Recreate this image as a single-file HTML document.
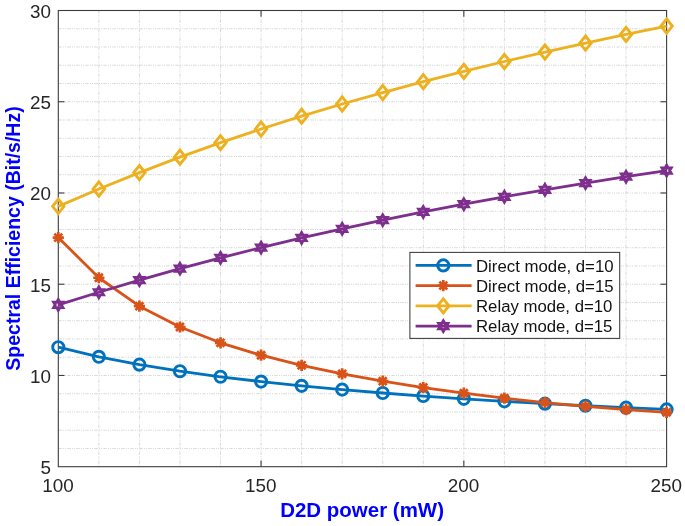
<!DOCTYPE html>
<html lang="en"><head><meta charset="utf-8"><title>Spectral Efficiency vs D2D power</title>
<style>html,body{margin:0;padding:0;background:#fff}svg{display:block}</style></head>
<body>
<svg width="685" height="526" viewBox="0 0 685 526">
<rect width="685" height="526" fill="#fff"/>
<g stroke="#d9d9d9" stroke-width="1" stroke-dasharray="3.4 1.3 1 1 1 1.3" fill="none">
<line x1="98.85" y1="10.5" x2="98.85" y2="466.7"/>
<line x1="139.41" y1="10.5" x2="139.41" y2="466.7"/>
<line x1="179.96" y1="10.5" x2="179.96" y2="466.7"/>
<line x1="220.51" y1="10.5" x2="220.51" y2="466.7"/>
<line x1="261.07" y1="10.5" x2="261.07" y2="466.7"/>
<line x1="301.62" y1="10.5" x2="301.62" y2="466.7"/>
<line x1="342.17" y1="10.5" x2="342.17" y2="466.7"/>
<line x1="382.73" y1="10.5" x2="382.73" y2="466.7"/>
<line x1="423.28" y1="10.5" x2="423.28" y2="466.7"/>
<line x1="463.83" y1="10.5" x2="463.83" y2="466.7"/>
<line x1="504.39" y1="10.5" x2="504.39" y2="466.7"/>
<line x1="544.94" y1="10.5" x2="544.94" y2="466.7"/>
<line x1="585.49" y1="10.5" x2="585.49" y2="466.7"/>
<line x1="626.05" y1="10.5" x2="626.05" y2="466.7"/>
<line x1="58.3" y1="448.45" x2="666.6" y2="448.45"/>
<line x1="58.3" y1="430.20" x2="666.6" y2="430.20"/>
<line x1="58.3" y1="411.96" x2="666.6" y2="411.96"/>
<line x1="58.3" y1="393.71" x2="666.6" y2="393.71"/>
<line x1="58.3" y1="375.46" x2="666.6" y2="375.46"/>
<line x1="58.3" y1="357.21" x2="666.6" y2="357.21"/>
<line x1="58.3" y1="338.96" x2="666.6" y2="338.96"/>
<line x1="58.3" y1="320.72" x2="666.6" y2="320.72"/>
<line x1="58.3" y1="302.47" x2="666.6" y2="302.47"/>
<line x1="58.3" y1="284.22" x2="666.6" y2="284.22"/>
<line x1="58.3" y1="265.97" x2="666.6" y2="265.97"/>
<line x1="58.3" y1="247.72" x2="666.6" y2="247.72"/>
<line x1="58.3" y1="229.48" x2="666.6" y2="229.48"/>
<line x1="58.3" y1="211.23" x2="666.6" y2="211.23"/>
<line x1="58.3" y1="192.98" x2="666.6" y2="192.98"/>
<line x1="58.3" y1="174.73" x2="666.6" y2="174.73"/>
<line x1="58.3" y1="156.48" x2="666.6" y2="156.48"/>
<line x1="58.3" y1="138.24" x2="666.6" y2="138.24"/>
<line x1="58.3" y1="119.99" x2="666.6" y2="119.99"/>
<line x1="58.3" y1="101.74" x2="666.6" y2="101.74"/>
<line x1="58.3" y1="83.49" x2="666.6" y2="83.49"/>
<line x1="58.3" y1="65.24" x2="666.6" y2="65.24"/>
<line x1="58.3" y1="47.00" x2="666.6" y2="47.00"/>
<line x1="58.3" y1="28.75" x2="666.6" y2="28.75"/>
</g>
<g stroke="#3c3c3c" stroke-width="1.1" fill="none">
<rect x="58.3" y="10.5" width="608.30" height="456.20"/>
<line x1="261.07" y1="466.7" x2="261.07" y2="460.5"/>
<line x1="261.07" y1="10.5" x2="261.07" y2="16.7"/>
<line x1="463.83" y1="466.7" x2="463.83" y2="460.5"/>
<line x1="463.83" y1="10.5" x2="463.83" y2="16.7"/>
<line x1="58.3" y1="375.46" x2="64.5" y2="375.46"/>
<line x1="666.6" y1="375.46" x2="660.4" y2="375.46"/>
<line x1="58.3" y1="284.22" x2="64.5" y2="284.22"/>
<line x1="666.6" y1="284.22" x2="660.4" y2="284.22"/>
<line x1="58.3" y1="192.98" x2="64.5" y2="192.98"/>
<line x1="666.6" y1="192.98" x2="660.4" y2="192.98"/>
<line x1="58.3" y1="101.74" x2="64.5" y2="101.74"/>
<line x1="666.6" y1="101.74" x2="660.4" y2="101.74"/>
</g>
<polyline points="58.30,347.18 98.85,356.82 139.41,364.66 179.96,371.20 220.51,376.77 261.07,381.61 301.62,385.85 342.17,389.63 382.73,393.02 423.28,396.07 463.83,398.84 504.39,401.36 544.94,403.66 585.49,405.76 626.05,407.66 666.60,409.40" fill="none" stroke="#0072bd" stroke-width="2.8" stroke-linejoin="round"/>
<circle cx="58.30" cy="347.18" r="5.6" fill="none" stroke="#0072bd" stroke-width="2.9"/>
<circle cx="98.85" cy="356.82" r="5.6" fill="none" stroke="#0072bd" stroke-width="2.9"/>
<circle cx="139.41" cy="364.66" r="5.6" fill="none" stroke="#0072bd" stroke-width="2.9"/>
<circle cx="179.96" cy="371.20" r="5.6" fill="none" stroke="#0072bd" stroke-width="2.9"/>
<circle cx="220.51" cy="376.77" r="5.6" fill="none" stroke="#0072bd" stroke-width="2.9"/>
<circle cx="261.07" cy="381.61" r="5.6" fill="none" stroke="#0072bd" stroke-width="2.9"/>
<circle cx="301.62" cy="385.85" r="5.6" fill="none" stroke="#0072bd" stroke-width="2.9"/>
<circle cx="342.17" cy="389.63" r="5.6" fill="none" stroke="#0072bd" stroke-width="2.9"/>
<circle cx="382.73" cy="393.02" r="5.6" fill="none" stroke="#0072bd" stroke-width="2.9"/>
<circle cx="423.28" cy="396.07" r="5.6" fill="none" stroke="#0072bd" stroke-width="2.9"/>
<circle cx="463.83" cy="398.84" r="5.6" fill="none" stroke="#0072bd" stroke-width="2.9"/>
<circle cx="504.39" cy="401.36" r="5.6" fill="none" stroke="#0072bd" stroke-width="2.9"/>
<circle cx="544.94" cy="403.66" r="5.6" fill="none" stroke="#0072bd" stroke-width="2.9"/>
<circle cx="585.49" cy="405.76" r="5.6" fill="none" stroke="#0072bd" stroke-width="2.9"/>
<circle cx="626.05" cy="407.66" r="5.6" fill="none" stroke="#0072bd" stroke-width="2.9"/>
<circle cx="666.60" cy="409.40" r="5.6" fill="none" stroke="#0072bd" stroke-width="2.9"/>
<polyline points="58.30,237.54 98.85,277.77 139.41,306.20 179.96,327.00 220.51,342.79 261.07,355.22 301.62,365.34 342.17,373.84 382.73,381.15 423.28,387.53 463.83,393.17 504.39,398.15 544.94,402.54 585.49,406.35 626.05,409.61 666.60,412.29" fill="none" stroke="#d95319" stroke-width="2.8" stroke-linejoin="round"/>
<path d="M52.70 237.54H63.90M58.30 231.94V243.14M54.34 233.58L62.26 241.50M54.34 241.50L62.26 233.58" fill="none" stroke="#d95319" stroke-width="2.7"/>
<path d="M93.25 277.77H104.45M98.85 272.17V283.37M94.89 273.81L102.81 281.73M94.89 281.73L102.81 273.81" fill="none" stroke="#d95319" stroke-width="2.7"/>
<path d="M133.81 306.20H145.01M139.41 300.60V311.80M135.45 302.24L143.37 310.16M135.45 310.16L143.37 302.24" fill="none" stroke="#d95319" stroke-width="2.7"/>
<path d="M174.36 327.00H185.56M179.96 321.40V332.60M176.00 323.04L183.92 330.96M176.00 330.96L183.92 323.04" fill="none" stroke="#d95319" stroke-width="2.7"/>
<path d="M214.91 342.79H226.11M220.51 337.19V348.39M216.55 338.83L224.47 346.75M216.55 346.75L224.47 338.83" fill="none" stroke="#d95319" stroke-width="2.7"/>
<path d="M255.47 355.22H266.67M261.07 349.62V360.82M257.11 351.26L265.03 359.18M257.11 359.18L265.03 351.26" fill="none" stroke="#d95319" stroke-width="2.7"/>
<path d="M296.02 365.34H307.22M301.62 359.74V370.94M297.66 361.38L305.58 369.30M297.66 369.30L305.58 361.38" fill="none" stroke="#d95319" stroke-width="2.7"/>
<path d="M336.57 373.84H347.77M342.17 368.24V379.44M338.21 369.88L346.13 377.80M338.21 377.80L346.13 369.88" fill="none" stroke="#d95319" stroke-width="2.7"/>
<path d="M377.13 381.15H388.33M382.73 375.55V386.75M378.77 377.19L386.69 385.11M378.77 385.11L386.69 377.19" fill="none" stroke="#d95319" stroke-width="2.7"/>
<path d="M417.68 387.53H428.88M423.28 381.93V393.13M419.32 383.57L427.24 391.49M419.32 391.49L427.24 383.57" fill="none" stroke="#d95319" stroke-width="2.7"/>
<path d="M458.23 393.17H469.43M463.83 387.57V398.77M459.87 389.21L467.79 397.13M459.87 397.13L467.79 389.21" fill="none" stroke="#d95319" stroke-width="2.7"/>
<path d="M498.79 398.15H509.99M504.39 392.55V403.75M500.43 394.19L508.35 402.11M500.43 402.11L508.35 394.19" fill="none" stroke="#d95319" stroke-width="2.7"/>
<path d="M539.34 402.54H550.54M544.94 396.94V408.14M540.98 398.58L548.90 406.50M540.98 406.50L548.90 398.58" fill="none" stroke="#d95319" stroke-width="2.7"/>
<path d="M579.89 406.35H591.09M585.49 400.75V411.95M581.53 402.39L589.45 410.31M581.53 410.31L589.45 402.39" fill="none" stroke="#d95319" stroke-width="2.7"/>
<path d="M620.45 409.61H631.65M626.05 404.01V415.21M622.09 405.65L630.01 413.57M622.09 413.57L630.01 405.65" fill="none" stroke="#d95319" stroke-width="2.7"/>
<path d="M661.00 412.29H672.20M666.60 406.69V417.89M662.64 408.33L670.56 416.25M662.64 416.25L670.56 408.33" fill="none" stroke="#d95319" stroke-width="2.7"/>
<polyline points="58.30,206.37 98.85,188.99 139.41,172.58 179.96,157.15 220.51,142.64 261.07,128.99 301.62,116.14 342.17,104.01 382.73,92.54 423.28,81.67 463.83,71.33 504.39,61.49 544.94,52.08 585.49,43.07 626.05,34.43 666.60,26.11" fill="none" stroke="#edb120" stroke-width="2.8" stroke-linejoin="round"/>
<polygon points="58.30,199.27 64.00,206.37 58.30,213.47 52.60,206.37" fill="none" stroke="#edb120" stroke-width="2.9" stroke-linejoin="miter"/>
<polygon points="98.85,181.89 104.55,188.99 98.85,196.09 93.15,188.99" fill="none" stroke="#edb120" stroke-width="2.9" stroke-linejoin="miter"/>
<polygon points="139.41,165.48 145.11,172.58 139.41,179.68 133.71,172.58" fill="none" stroke="#edb120" stroke-width="2.9" stroke-linejoin="miter"/>
<polygon points="179.96,150.05 185.66,157.15 179.96,164.25 174.26,157.15" fill="none" stroke="#edb120" stroke-width="2.9" stroke-linejoin="miter"/>
<polygon points="220.51,135.54 226.21,142.64 220.51,149.74 214.81,142.64" fill="none" stroke="#edb120" stroke-width="2.9" stroke-linejoin="miter"/>
<polygon points="261.07,121.89 266.77,128.99 261.07,136.09 255.37,128.99" fill="none" stroke="#edb120" stroke-width="2.9" stroke-linejoin="miter"/>
<polygon points="301.62,109.04 307.32,116.14 301.62,123.24 295.92,116.14" fill="none" stroke="#edb120" stroke-width="2.9" stroke-linejoin="miter"/>
<polygon points="342.17,96.91 347.87,104.01 342.17,111.11 336.47,104.01" fill="none" stroke="#edb120" stroke-width="2.9" stroke-linejoin="miter"/>
<polygon points="382.73,85.44 388.43,92.54 382.73,99.64 377.03,92.54" fill="none" stroke="#edb120" stroke-width="2.9" stroke-linejoin="miter"/>
<polygon points="423.28,74.57 428.98,81.67 423.28,88.77 417.58,81.67" fill="none" stroke="#edb120" stroke-width="2.9" stroke-linejoin="miter"/>
<polygon points="463.83,64.23 469.53,71.33 463.83,78.43 458.13,71.33" fill="none" stroke="#edb120" stroke-width="2.9" stroke-linejoin="miter"/>
<polygon points="504.39,54.39 510.09,61.49 504.39,68.59 498.69,61.49" fill="none" stroke="#edb120" stroke-width="2.9" stroke-linejoin="miter"/>
<polygon points="544.94,44.98 550.64,52.08 544.94,59.18 539.24,52.08" fill="none" stroke="#edb120" stroke-width="2.9" stroke-linejoin="miter"/>
<polygon points="585.49,35.97 591.19,43.07 585.49,50.17 579.79,43.07" fill="none" stroke="#edb120" stroke-width="2.9" stroke-linejoin="miter"/>
<polygon points="626.05,27.33 631.75,34.43 626.05,41.53 620.35,34.43" fill="none" stroke="#edb120" stroke-width="2.9" stroke-linejoin="miter"/>
<polygon points="666.60,19.01 672.30,26.11 666.60,33.21 660.90,26.11" fill="none" stroke="#edb120" stroke-width="2.9" stroke-linejoin="miter"/>
<polyline points="58.30,304.93 98.85,292.23 139.41,280.13 179.96,268.67 220.51,257.84 261.07,247.61 301.62,237.94 342.17,228.80 382.73,220.16 423.28,211.97 463.83,204.20 504.39,196.82 544.94,189.79 585.49,183.10 626.05,176.71 666.60,170.60" fill="none" stroke="#7e2f8e" stroke-width="2.8" stroke-linejoin="round"/>
<polygon points="58.30,299.63 59.83,302.28 62.89,302.28 61.36,304.93 62.89,307.58 59.83,307.58 58.30,310.23 56.77,307.58 53.71,307.58 55.24,304.93 53.71,302.28 56.77,302.28" fill="none" stroke="#7e2f8e" stroke-width="2.9" stroke-linejoin="miter"/>
<polygon points="98.85,286.93 100.38,289.58 103.44,289.58 101.91,292.23 103.44,294.88 100.38,294.88 98.85,297.53 97.32,294.88 94.26,294.88 95.79,292.23 94.26,289.58 97.32,289.58" fill="none" stroke="#7e2f8e" stroke-width="2.9" stroke-linejoin="miter"/>
<polygon points="139.41,274.83 140.94,277.48 144.00,277.48 142.47,280.13 144.00,282.78 140.94,282.78 139.41,285.43 137.88,282.78 134.82,282.78 136.35,280.13 134.82,277.48 137.88,277.48" fill="none" stroke="#7e2f8e" stroke-width="2.9" stroke-linejoin="miter"/>
<polygon points="179.96,263.37 181.49,266.02 184.55,266.02 183.02,268.67 184.55,271.32 181.49,271.32 179.96,273.97 178.43,271.32 175.37,271.32 176.90,268.67 175.37,266.02 178.43,266.02" fill="none" stroke="#7e2f8e" stroke-width="2.9" stroke-linejoin="miter"/>
<polygon points="220.51,252.54 222.04,255.19 225.10,255.19 223.57,257.84 225.10,260.49 222.04,260.49 220.51,263.14 218.98,260.49 215.92,260.49 217.45,257.84 215.92,255.19 218.98,255.19" fill="none" stroke="#7e2f8e" stroke-width="2.9" stroke-linejoin="miter"/>
<polygon points="261.07,242.31 262.60,244.96 265.66,244.96 264.13,247.61 265.66,250.26 262.60,250.26 261.07,252.91 259.54,250.26 256.48,250.26 258.01,247.61 256.48,244.96 259.54,244.96" fill="none" stroke="#7e2f8e" stroke-width="2.9" stroke-linejoin="miter"/>
<polygon points="301.62,232.64 303.15,235.29 306.21,235.29 304.68,237.94 306.21,240.59 303.15,240.59 301.62,243.24 300.09,240.59 297.03,240.59 298.56,237.94 297.03,235.29 300.09,235.29" fill="none" stroke="#7e2f8e" stroke-width="2.9" stroke-linejoin="miter"/>
<polygon points="342.17,223.50 343.70,226.15 346.76,226.15 345.23,228.80 346.76,231.45 343.70,231.45 342.17,234.10 340.64,231.45 337.58,231.45 339.11,228.80 337.58,226.15 340.64,226.15" fill="none" stroke="#7e2f8e" stroke-width="2.9" stroke-linejoin="miter"/>
<polygon points="382.73,214.86 384.26,217.51 387.32,217.51 385.79,220.16 387.32,222.81 384.26,222.81 382.73,225.46 381.20,222.81 378.14,222.81 379.67,220.16 378.14,217.51 381.20,217.51" fill="none" stroke="#7e2f8e" stroke-width="2.9" stroke-linejoin="miter"/>
<polygon points="423.28,206.67 424.81,209.32 427.87,209.32 426.34,211.97 427.87,214.62 424.81,214.62 423.28,217.27 421.75,214.62 418.69,214.62 420.22,211.97 418.69,209.32 421.75,209.32" fill="none" stroke="#7e2f8e" stroke-width="2.9" stroke-linejoin="miter"/>
<polygon points="463.83,198.90 465.36,201.55 468.42,201.55 466.89,204.20 468.42,206.85 465.36,206.85 463.83,209.50 462.30,206.85 459.24,206.85 460.77,204.20 459.24,201.55 462.30,201.55" fill="none" stroke="#7e2f8e" stroke-width="2.9" stroke-linejoin="miter"/>
<polygon points="504.39,191.52 505.92,194.17 508.98,194.17 507.45,196.82 508.98,199.47 505.92,199.47 504.39,202.12 502.86,199.47 499.80,199.47 501.33,196.82 499.80,194.17 502.86,194.17" fill="none" stroke="#7e2f8e" stroke-width="2.9" stroke-linejoin="miter"/>
<polygon points="544.94,184.49 546.47,187.14 549.53,187.14 548.00,189.79 549.53,192.44 546.47,192.44 544.94,195.09 543.41,192.44 540.35,192.44 541.88,189.79 540.35,187.14 543.41,187.14" fill="none" stroke="#7e2f8e" stroke-width="2.9" stroke-linejoin="miter"/>
<polygon points="585.49,177.80 587.02,180.45 590.08,180.45 588.55,183.10 590.08,185.75 587.02,185.75 585.49,188.40 583.96,185.75 580.90,185.75 582.43,183.10 580.90,180.45 583.96,180.45" fill="none" stroke="#7e2f8e" stroke-width="2.9" stroke-linejoin="miter"/>
<polygon points="626.05,171.41 627.58,174.06 630.64,174.06 629.11,176.71 630.64,179.36 627.58,179.36 626.05,182.01 624.52,179.36 621.46,179.36 622.99,176.71 621.46,174.06 624.52,174.06" fill="none" stroke="#7e2f8e" stroke-width="2.9" stroke-linejoin="miter"/>
<polygon points="666.60,165.30 668.13,167.95 671.19,167.95 669.66,170.60 671.19,173.25 668.13,173.25 666.60,175.90 665.07,173.25 662.01,173.25 663.54,170.60 662.01,167.95 665.07,167.95" fill="none" stroke="#7e2f8e" stroke-width="2.9" stroke-linejoin="miter"/>
<g font-family="Liberation Sans, Arial, sans-serif" font-size="17.8" fill="#262626">
<text x="58.00" y="492.1" text-anchor="middle" textLength="31.47" lengthAdjust="spacingAndGlyphs">100</text>
<text x="260.77" y="492.1" text-anchor="middle" textLength="31.47" lengthAdjust="spacingAndGlyphs">150</text>
<text x="463.53" y="492.1" text-anchor="middle" textLength="31.47" lengthAdjust="spacingAndGlyphs">200</text>
<text x="666.30" y="492.1" text-anchor="middle" textLength="31.47" lengthAdjust="spacingAndGlyphs">250</text>
<text x="51.0" y="474.10" text-anchor="end" textLength="10.49" lengthAdjust="spacingAndGlyphs">5</text>
<text x="51.0" y="382.86" text-anchor="end" textLength="20.98" lengthAdjust="spacingAndGlyphs">10</text>
<text x="51.0" y="291.62" text-anchor="end" textLength="20.98" lengthAdjust="spacingAndGlyphs">15</text>
<text x="51.0" y="200.38" text-anchor="end" textLength="20.98" lengthAdjust="spacingAndGlyphs">20</text>
<text x="51.0" y="109.14" text-anchor="end" textLength="20.98" lengthAdjust="spacingAndGlyphs">25</text>
<text x="51.0" y="17.90" text-anchor="end" textLength="20.98" lengthAdjust="spacingAndGlyphs">30</text>
</g>
<g font-family="Liberation Sans, Arial, sans-serif" font-weight="bold" font-size="19.8" fill="#0000ff">
<text x="362.1" y="517.4" text-anchor="middle" textLength="163.8" lengthAdjust="spacingAndGlyphs">D2D power (mW)</text>
<text transform="translate(19.6 238.5) scale(1.04 1) rotate(-90)" text-anchor="middle" textLength="264.3" lengthAdjust="spacingAndGlyphs">Spectral Efficiency (Bit/s/Hz)</text>
</g>
<rect x="409.9" y="252.4" width="209.80" height="86.00" fill="#fff" stroke="#3c3c3c" stroke-width="1.05"/>
<g font-family="Liberation Sans, Arial, sans-serif" font-size="16" fill="#111">
<line x1="415.6" y1="265.4" x2="471.6" y2="265.4" stroke="#0072bd" stroke-width="2.8"/>
<circle cx="443.30" cy="265.40" r="5.6" fill="none" stroke="#0072bd" stroke-width="2.9"/>
<text x="476.0" y="271.50" textLength="137.6" lengthAdjust="spacingAndGlyphs">Direct mode, d=10</text>
<line x1="415.6" y1="285.6" x2="471.6" y2="285.6" stroke="#d95319" stroke-width="2.8"/>
<path d="M437.70 285.60H448.90M443.30 280.00V291.20M439.34 281.64L447.26 289.56M439.34 289.56L447.26 281.64" fill="none" stroke="#d95319" stroke-width="2.7"/>
<text x="476.0" y="291.70" textLength="137.6" lengthAdjust="spacingAndGlyphs">Direct mode, d=15</text>
<line x1="415.6" y1="305.9" x2="471.6" y2="305.9" stroke="#edb120" stroke-width="2.8"/>
<polygon points="443.30,298.80 449.00,305.90 443.30,313.00 437.60,305.90" fill="none" stroke="#edb120" stroke-width="2.9" stroke-linejoin="miter"/>
<text x="476.0" y="312.00" textLength="136.4" lengthAdjust="spacingAndGlyphs">Relay mode, d=10</text>
<line x1="415.6" y1="326.1" x2="471.6" y2="326.1" stroke="#7e2f8e" stroke-width="2.8"/>
<polygon points="443.30,320.80 444.83,323.45 447.89,323.45 446.36,326.10 447.89,328.75 444.83,328.75 443.30,331.40 441.77,328.75 438.71,328.75 440.24,326.10 438.71,323.45 441.77,323.45" fill="none" stroke="#7e2f8e" stroke-width="2.9" stroke-linejoin="miter"/>
<text x="476.0" y="332.20" textLength="136.4" lengthAdjust="spacingAndGlyphs">Relay mode, d=15</text>
</g>
</svg>
</body></html>
